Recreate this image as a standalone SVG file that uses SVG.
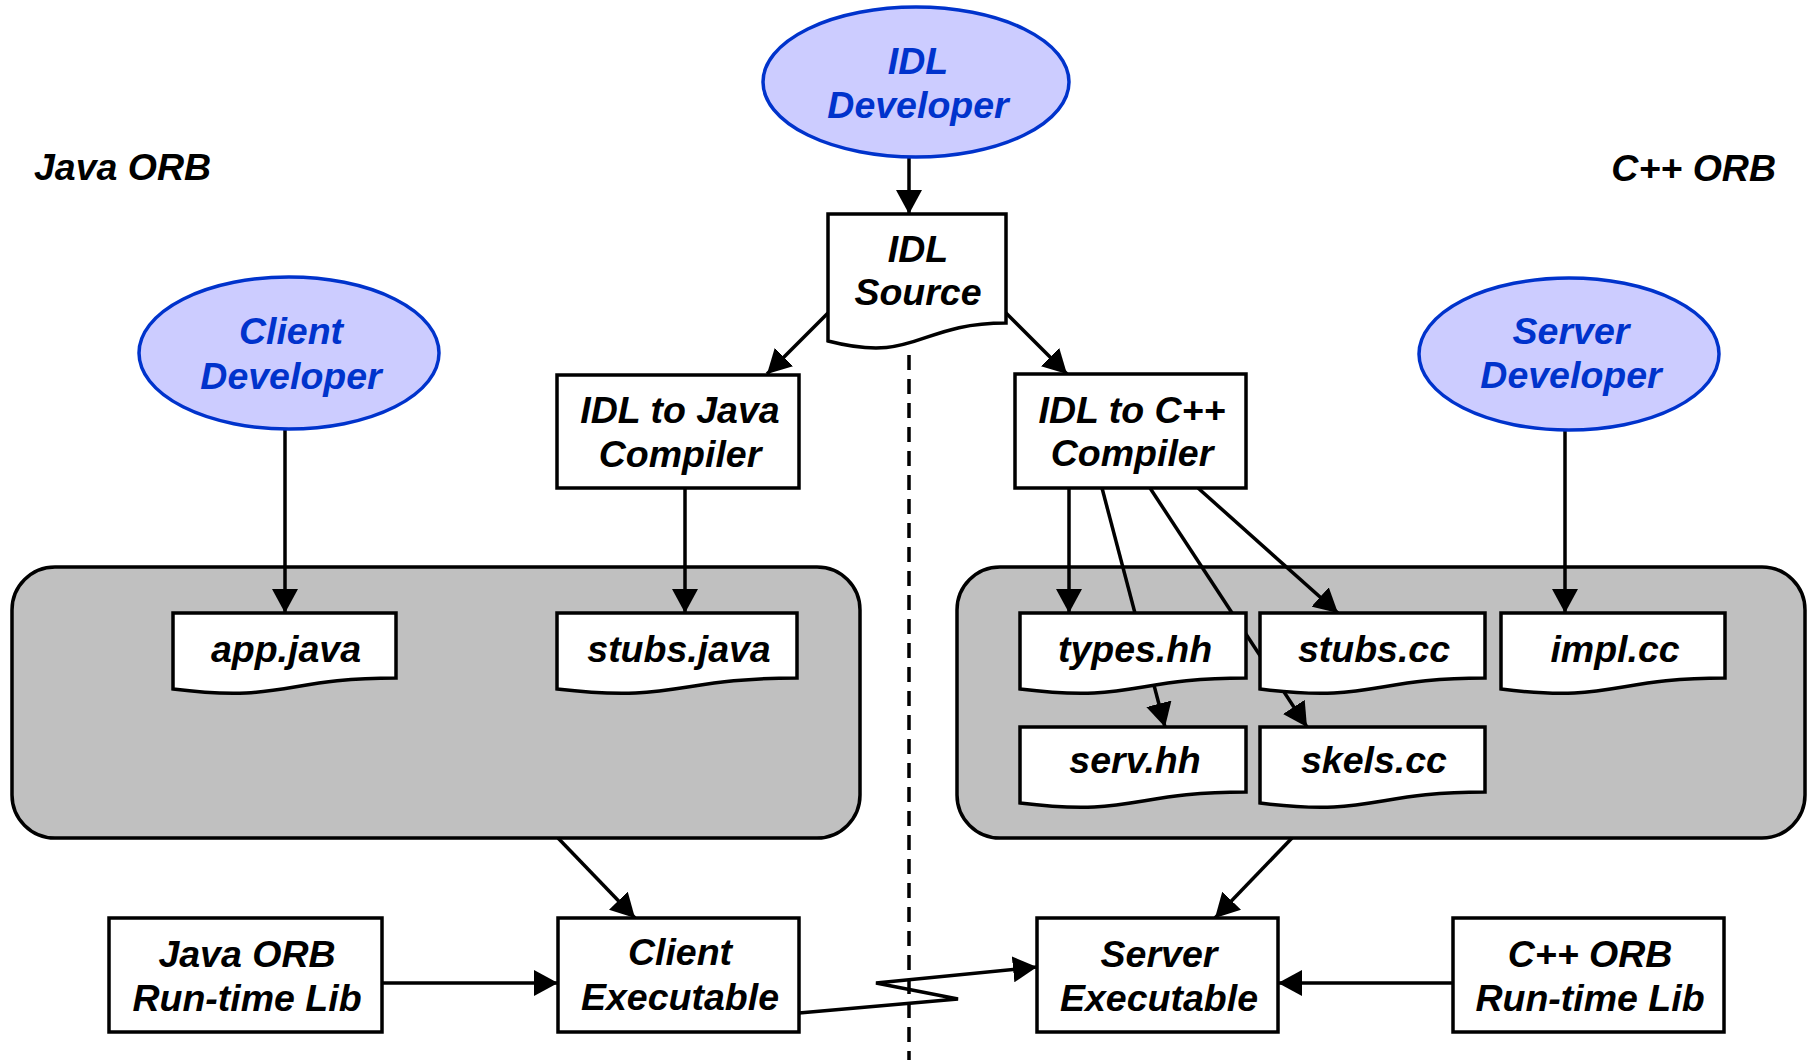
<svg xmlns="http://www.w3.org/2000/svg" width="1807" height="1060" viewBox="0 0 1807 1060">
  <style>
    text { font-family: "Liberation Sans", Arial, sans-serif; font-weight: bold; font-style: italic; font-size: 37.5px; text-anchor: middle; }
    .actor ellipse { fill: #CCCCFF; stroke: #0033CC; stroke-width: 3.5; }
    .actor text { fill: #0033CC; }
    .box rect, .doc path { fill: #FFFFFF; stroke: #000000; stroke-width: 3.5; }
    .area rect { fill: #C0C0C0; stroke: #000000; stroke-width: 3.5; }
    .label { text-anchor: start; fill: #000000; }
    #connectors line, #connectors polyline { stroke: #000000; stroke-width: 3.5; fill: none; }
    #connectors .arrow { marker-end: url(#head); }
    #divider { stroke: #000000; stroke-width: 3.5; stroke-dasharray: 15 9; }
  </style>
  <defs>
    <marker id="head" markerUnits="userSpaceOnUse" markerWidth="26" markerHeight="26" refX="24" refY="13" orient="auto">
      <path d="M0,0 L24,13 L0,26 Z" fill="#000000"/>
    </marker>
  </defs>

  <rect width="1807" height="1060" fill="#FFFFFF"/>

  <!-- side captions -->
  <text class="label" x="34" y="180">Java ORB</text>
  <text class="label" x="1776" y="181" style="text-anchor:end">C++ ORB</text>

  <!-- generated-file areas -->
  <g id="java-area" class="area"><rect x="12" y="567" width="848" height="271" rx="43" ry="43"/></g>
  <g id="cpp-area" class="area"><rect x="957" y="567" width="848" height="271" rx="43" ry="43"/></g>

  <!-- network boundary -->
  <line id="divider" x1="909" y1="355" x2="909" y2="1060"/>

  <g id="connectors">
    <line class="arrow" x1="909" y1="158" x2="909" y2="214"/>
    <line class="arrow" x1="828" y1="313" x2="767" y2="374"/>
    <line class="arrow" x1="1006" y1="313" x2="1067" y2="374"/>
    <line class="arrow" x1="285" y1="429" x2="285" y2="613"/>
    <line class="arrow" x1="685" y1="488" x2="685" y2="613"/>
    <line class="arrow" x1="1565" y1="430" x2="1565" y2="613"/>
    <line class="arrow" x1="1069" y1="488" x2="1069" y2="613"/>
    <line class="arrow" x1="1102" y1="488" x2="1165" y2="727"/>
    <line class="arrow" x1="1150" y1="488" x2="1307" y2="727"/>
    <line class="arrow" x1="1198" y1="488" x2="1338" y2="613"/>
    <line class="arrow" x1="558" y1="838" x2="635" y2="918"/>
    <line class="arrow" x1="1292" y1="838" x2="1215" y2="918"/>
    <line class="arrow" x1="382" y1="983" x2="558" y2="983"/>
    <line class="arrow" x1="1453" y1="983" x2="1278" y2="983"/>
    <polyline class="arrow" points="799,1013 958,999 876,983 1037,967"/>
  </g>

  <!-- developers -->
  <g id="idl-developer" class="actor">
    <ellipse cx="916" cy="82" rx="153" ry="75"/>
    <text x="918" y="74">IDL</text>
    <text x="918" y="118">Developer</text>
  </g>
  <g id="client-developer" class="actor">
    <ellipse cx="289" cy="353" rx="150" ry="76"/>
    <text x="291" y="344">Client</text>
    <text x="291" y="389">Developer</text>
  </g>
  <g id="server-developer" class="actor">
    <ellipse cx="1569" cy="354" rx="150" ry="76"/>
    <text x="1571" y="344">Server</text>
    <text x="1571" y="388">Developer</text>
  </g>

  <!-- IDL source document -->
  <g id="idl-source" class="doc">
    <path d="M828,214 H1006 V323 C917,323 917,364 828,341 Z"/>
    <text x="918" y="262">IDL</text>
    <text x="918" y="305">Source</text>
  </g>

  <!-- compilers -->
  <g id="idl-to-java" class="box">
    <rect x="557" y="375" width="242" height="113"/>
    <text x="680" y="423">IDL to Java</text>
    <text x="680" y="467">Compiler</text>
  </g>
  <g id="idl-to-cpp" class="box">
    <rect x="1015" y="374" width="231" height="114"/>
    <text x="1132" y="423">IDL to C++</text>
    <text x="1132" y="466">Compiler</text>
  </g>

  <!-- source files -->
  <g id="app-java" class="doc">
    <path d="M173,613 H396 V678 C284.5,678 284.5,703 173,689 Z"/>
    <text x="286" y="662">app.java</text>
  </g>
  <g id="stubs-java" class="doc">
    <path d="M557,613 H797 V678 C677,678 677,703 557,689 Z"/>
    <text x="679" y="662">stubs.java</text>
  </g>
  <g id="types-hh" class="doc">
    <path d="M1020,613 H1246 V678 C1133,678 1133,703 1020,689 Z"/>
    <text x="1135" y="662">types.hh</text>
  </g>
  <g id="stubs-cc" class="doc">
    <path d="M1260,613 H1485 V678 C1372.5,678 1372.5,703 1260,689 Z"/>
    <text x="1374" y="662">stubs.cc</text>
  </g>
  <g id="impl-cc" class="doc">
    <path d="M1501,613 H1725 V678 C1613,678 1613,703 1501,689 Z"/>
    <text x="1615" y="662">impl.cc</text>
  </g>
  <g id="serv-hh" class="doc">
    <path d="M1020,727 H1246 V792 C1133,792 1133,817 1020,803 Z"/>
    <text x="1135" y="773">serv.hh</text>
  </g>
  <g id="skels-cc" class="doc">
    <path d="M1260,727 H1485 V792 C1372.5,792 1372.5,817 1260,803 Z"/>
    <text x="1374" y="773">skels.cc</text>
  </g>

  <!-- executables and libraries -->
  <g id="java-orb-lib" class="box">
    <rect x="109" y="918" width="273" height="114"/>
    <text x="247" y="967">Java ORB</text>
    <text x="247" y="1011">Run-time Lib</text>
  </g>
  <g id="client-exe" class="box">
    <rect x="558" y="918" width="241" height="114"/>
    <text x="680" y="965">Client</text>
    <text x="680" y="1010">Executable</text>
  </g>
  <g id="server-exe" class="box">
    <rect x="1037" y="918" width="241" height="114"/>
    <text x="1159" y="967">Server</text>
    <text x="1159" y="1011">Executable</text>
  </g>
  <g id="cpp-orb-lib" class="box">
    <rect x="1453" y="918" width="271" height="114"/>
    <text x="1590" y="967">C++ ORB</text>
    <text x="1590" y="1011">Run-time Lib</text>
  </g>
</svg>
